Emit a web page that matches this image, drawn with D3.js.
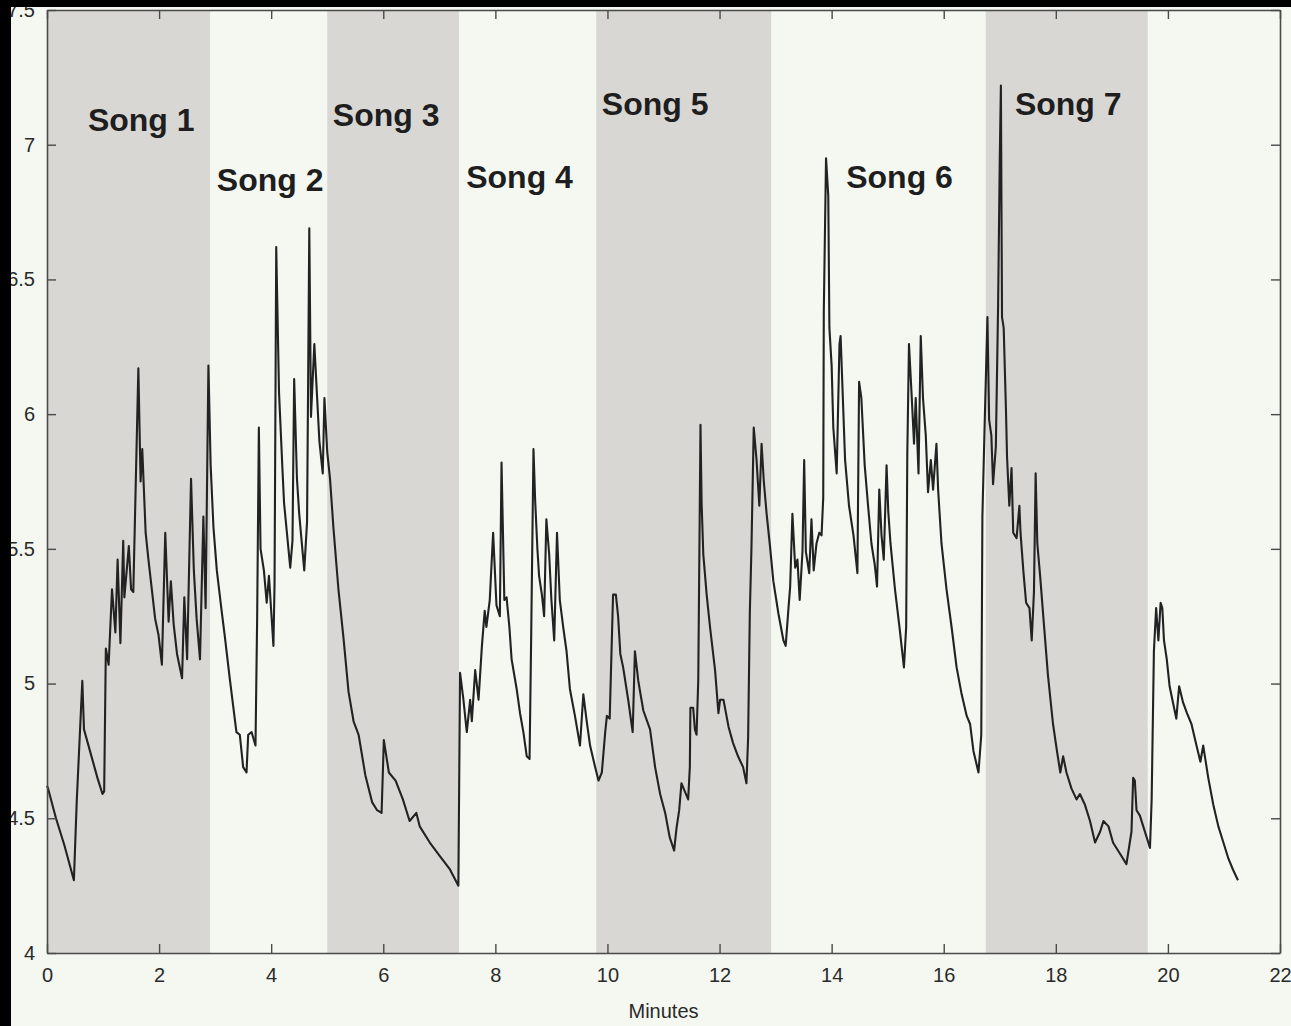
<!DOCTYPE html>
<html>
<head>
<meta charset="utf-8">
<script src="https://cdn.jsdelivr.net/npm/d3@7"></script>
<style>
  html, body { margin: 0; padding: 0; background: #f4f8f1; }
  svg { display: block; }
  .tick text { font-family: "Liberation Sans", Arial, sans-serif; font-size: 20px; fill: #2a2a2a; }
</style>
</head>
<body>
<div id="chart"></div>
<script>
// song boundaries (minutes) and label anchors (minute, level)
var songNames = ["Song 1", "Song 2", "Song 3", "Song 4", "Song 5", "Song 6", "Song 7"];
var songStart = [0, 2.91, 5.0, 7.35, 9.8, 12.92, 16.75];
var songEnd   = [2.91, 5.0, 7.35, 9.8, 12.92, 16.75, 19.64];
var labelMinute = [0.73, 3.03, 5.10, 7.48, 9.90, 14.26, 17.27];
var labelLevel  = [7.05, 6.83, 7.07, 6.84, 7.11, 6.84, 7.11];

var xTicks = [0, 2, 4, 6, 8, 10, 12, 14, 16, 18, 20, 22];
var yTicks = [4, 4.5, 5, 5.5, 6, 6.5, 7, 7.5];

// the trace
var minutes = [
  0.00, 0.02, 0.16, 0.31, 0.48, 0.53, 0.63, 0.66, 0.78, 0.90, 0.99, 1.02, 1.05, 1.10, 1.16, 1.22, 1.26, 1.31, 1.36, 1.38,
  1.46, 1.50, 1.54, 1.63, 1.67, 1.70, 1.76, 1.81, 1.93, 1.99, 2.05, 2.11, 2.17, 2.21, 2.26, 2.32, 2.41, 2.45, 2.50, 2.57,
  2.62, 2.67, 2.73, 2.79, 2.83, 2.88, 2.92, 2.97, 3.03, 3.11, 3.17, 3.26, 3.38,
  3.44, 3.50, 3.56, 3.59, 3.65, 3.72, 3.75, 3.78, 3.81, 3.87, 3.92, 3.96, 4.04, 4.06, 4.09, 4.14, 4.20, 4.23, 4.34, 4.38,
  4.41, 4.46, 4.50, 4.59, 4.64, 4.68, 4.71, 4.77, 4.86, 4.92, 4.95, 5.00, 5.05, 5.11, 5.20, 5.29, 5.38, 5.47, 5.56, 5.68,
  5.80, 5.89, 5.97, 6.01, 6.10, 6.22, 6.35, 6.47, 6.59, 6.65, 6.83, 7.01, 7.19, 7.34,
  7.37, 7.43, 7.49, 7.55, 7.58, 7.64, 7.70, 7.76, 7.81, 7.84, 7.90, 7.96, 8.02, 8.08, 8.11, 8.16, 8.20, 8.25, 8.29, 8.38,
  8.44, 8.50, 8.56, 8.61, 8.64, 8.68, 8.71, 8.75, 8.78, 8.83, 8.87, 8.91, 8.96, 9.00, 9.05, 9.10, 9.15, 9.21, 9.27, 9.33,
  9.42, 9.51, 9.57, 9.63, 9.69, 9.78, 9.84, 9.90, 9.96, 9.99, 10.04, 10.10, 10.15, 10.19, 10.23, 10.28, 10.37, 10.45, 10.49, 10.55,
  10.64, 10.76, 10.85, 10.94, 11.03, 11.11, 11.19, 11.23, 11.28, 11.32, 11.38, 11.44, 11.47, 11.48, 11.53, 11.56, 11.59, 11.62, 11.66, 11.68,
  11.71, 11.77, 11.83, 11.92, 11.98, 12.01, 12.07, 12.16, 12.24, 12.33, 12.42, 12.48, 12.51, 12.54, 12.57, 12.61, 12.66, 12.71, 12.75, 12.79,
  12.84, 12.90, 12.96, 13.05, 13.14, 13.18, 13.23, 13.26, 13.30, 13.35, 13.39,
  13.43, 13.48, 13.51, 13.54, 13.60, 13.64, 13.68, 13.73, 13.78, 13.82, 13.85, 13.86, 13.90, 13.94, 13.96, 14.00, 14.03, 14.09, 14.14, 14.16,
  14.20, 14.24, 14.31, 14.39, 14.46, 14.49, 14.53, 14.59, 14.65, 14.71, 14.77, 14.81, 14.85, 14.89, 14.93, 14.98, 15.01, 15.05, 15.13, 15.21,
  15.29, 15.33, 15.35, 15.38, 15.43, 15.47, 15.50, 15.55, 15.59, 15.63, 15.68, 15.72, 15.77, 15.81, 15.87, 15.90, 15.96, 16.05, 16.14, 16.23,
  16.32, 16.41,
  16.47, 16.53, 16.62, 16.67, 16.69, 16.73, 16.78, 16.81, 16.85, 16.88, 16.93, 16.97, 17.00, 17.02, 17.04, 17.07, 17.11, 17.13, 17.17, 17.21,
  17.24, 17.30, 17.35, 17.37, 17.42, 17.47, 17.53, 17.57, 17.61, 17.64, 17.67, 17.72, 17.78, 17.86, 17.95, 18.02, 18.08, 18.13, 18.19, 18.28,
  18.37, 18.43, 18.52, 18.61, 18.70, 18.79, 18.85, 18.94, 19.02, 19.14, 19.26, 19.32, 19.35, 19.38, 19.41, 19.44, 19.50, 19.56, 19.65, 19.68,
  19.71, 19.75, 19.79, 19.83, 19.87, 19.90, 19.93, 19.98, 20.03, 20.09, 20.15, 20.20, 20.27, 20.34, 20.42, 20.51, 20.58, 20.63, 20.66, 20.72,
  20.81, 20.90, 20.99, 21.08, 21.16, 21.25
];
var level = [
  4.62, 4.61, 4.50, 4.40, 4.27, 4.56, 5.01, 4.83, 4.74, 4.65, 4.59, 4.60, 5.13, 5.07, 5.35, 5.19, 5.46, 5.15, 5.53, 5.32,
  5.51, 5.35, 5.34, 6.17, 5.75, 5.87, 5.56, 5.46, 5.24, 5.18, 5.07, 5.56, 5.23, 5.38, 5.22, 5.11, 5.02, 5.32, 5.09, 5.76,
  5.42, 5.24, 5.09, 5.62, 5.28, 6.18, 5.81, 5.58, 5.42, 5.28, 5.18, 5.02, 4.82,
  4.81, 4.69, 4.67, 4.81, 4.82, 4.77, 5.25, 5.95, 5.50, 5.42, 5.30, 5.40, 5.14, 5.37, 6.62, 6.08, 5.80, 5.67, 5.43, 5.53,
  6.13, 5.76, 5.63, 5.42, 5.60, 6.69, 5.99, 6.26, 5.90, 5.78, 6.06, 5.86, 5.76, 5.58, 5.35, 5.17, 4.97, 4.86, 4.81, 4.66,
  4.56, 4.53, 4.52, 4.79, 4.67, 4.64, 4.57, 4.49, 4.52, 4.47, 4.41, 4.36, 4.31, 4.25,
  5.04, 4.94, 4.82, 4.94, 4.86, 5.05, 4.94, 5.14, 5.27, 5.21, 5.31, 5.56, 5.29, 5.25, 5.82, 5.31, 5.32, 5.21, 5.09, 4.98,
  4.89, 4.82, 4.73, 4.72, 5.19, 5.87, 5.68, 5.50, 5.40, 5.33, 5.25, 5.61, 5.48, 5.31, 5.16, 5.56, 5.31, 5.21, 5.12, 4.98,
  4.88, 4.77, 4.96, 4.86, 4.77, 4.69, 4.64, 4.67, 4.82, 4.88, 4.87, 5.33, 5.33, 5.25, 5.11, 5.06, 4.94, 4.82, 5.12, 5.01,
  4.90, 4.83, 4.69, 4.59, 4.52, 4.43, 4.38, 4.46, 4.53, 4.63, 4.60, 4.57, 4.69, 4.91, 4.91, 4.83, 4.81, 5.01, 5.96, 5.67,
  5.48, 5.33, 5.21, 5.05, 4.89, 4.94, 4.94, 4.84, 4.78, 4.73, 4.69, 4.63, 4.80, 5.26, 5.51, 5.95, 5.83, 5.66, 5.89, 5.75,
  5.63, 5.51, 5.38, 5.26, 5.16, 5.14, 5.28, 5.36, 5.63, 5.43, 5.46,
  5.31, 5.49, 5.83, 5.49, 5.41, 5.61, 5.42, 5.52, 5.56, 5.55, 5.69, 6.38, 6.95, 6.81, 6.32, 6.18, 5.95, 5.78, 6.26, 6.29,
  6.06, 5.83, 5.66, 5.55, 5.41, 6.12, 6.06, 5.81, 5.66, 5.52, 5.44, 5.36, 5.72, 5.55, 5.46, 5.81, 5.64, 5.52, 5.35, 5.21,
  5.06, 5.21, 5.85, 6.26, 6.06, 5.89, 6.06, 5.78, 6.29, 6.06, 5.92, 5.71, 5.83, 5.72, 5.89, 5.72, 5.52, 5.35, 5.21, 5.06,
  4.96, 4.88,
  4.85, 4.75, 4.67, 4.81, 5.62, 5.96, 6.36, 5.98, 5.92, 5.74, 5.88, 6.40, 6.95, 7.22, 6.36, 6.32, 6.02, 5.84, 5.66, 5.80,
  5.56, 5.54, 5.66, 5.56, 5.42, 5.30, 5.28, 5.16, 5.34, 5.78, 5.52, 5.40, 5.24, 5.03, 4.85, 4.75, 4.67, 4.73, 4.67, 4.61,
  4.57, 4.59, 4.55, 4.49, 4.41, 4.45, 4.49, 4.47, 4.41, 4.37, 4.33, 4.41, 4.45, 4.65, 4.64, 4.53, 4.51, 4.47, 4.41, 4.39,
  4.57, 5.12, 5.28, 5.16, 5.30, 5.28, 5.16, 5.09, 4.99, 4.93, 4.87, 4.99, 4.93, 4.89, 4.85, 4.77, 4.71, 4.77, 4.73, 4.65,
  4.55, 4.47, 4.41, 4.35, 4.31, 4.27
];

var W = 1291, H = 1026;
var padLeft = 47, padRight = 1280, padTop = 10, padBottom = 953;

var svg = d3.select("#chart").append("svg")
    .attr("width", W)
    .attr("height", H);

svg.append("rect")
    .attr("width", W).attr("height", H)
    .attr("fill", "#f4f8f1");

var x = d3.scaleLinear().domain([0, 22]).range([padLeft, padRight]);
var y = d3.scaleLinear().domain([4, 7.5]).range([padBottom, padTop]);

// grey bands for the odd songs
var bands = [];
songStart.forEach(function(s, i) { if (i % 2 === 0) bands.push([s, songEnd[i]]); });

svg.selectAll("rect.band")
    .data(bands)
    .enter().append("rect")
    .attr("class", "band")
    .attr("x", function(d) { return x(d[0]); })
    .attr("width", function(d) { return x(d[1]) - x(d[0]); })
    .attr("y", y(7.5))
    .attr("height", y(4) - y(7.5))
    .attr("fill", "#d8d7d3");

// the trace
var pts = minutes.map(function(m, i) { return [m, level[i]]; });
svg.append("path")
    .datum(pts)
    .attr("d", d3.line().x(function(d) { return x(d[0]); }).y(function(d) { return y(d[1]); }))
    .attr("fill", "none")
    .attr("stroke", "#222")
    .attr("stroke-width", 2.1)
    .attr("stroke-linejoin", "round");

// song labels
svg.selectAll("text.song")
    .data(songNames)
    .enter().append("text")
    .attr("class", "song")
    .attr("x", function(d, i) { return x(labelMinute[i]); })
    .attr("y", function(d, i) { return y(labelLevel[i]); })
    .attr("font-family", "Liberation Sans, Arial, sans-serif")
    .attr("font-weight", "bold")
    .attr("font-size", 32)
    .attr("fill", "#1e1e1e")
    .text(function(d) { return d; });

// axes, ticks point inwards on all four sides
var fmt = d3.format("");
svg.append("g")
    .attr("transform", "translate(0," + padBottom + ")")
    .call(d3.axisBottom(x).tickValues(xTicks).tickSizeInner(-9).tickSizeOuter(0).tickPadding(15).tickFormat(fmt));
svg.append("g")
    .attr("transform", "translate(0," + padTop + ")")
    .call(d3.axisTop(x).tickValues(xTicks).tickSizeInner(-9).tickSizeOuter(0).tickFormat(""));
svg.append("g")
    .attr("transform", "translate(" + padLeft + ",0)")
    .call(d3.axisLeft(y).tickValues(yTicks).tickSizeInner(-9).tickSizeOuter(0).tickPadding(12).tickFormat(fmt));
svg.append("g")
    .attr("transform", "translate(" + padRight + ",0)")
    .call(d3.axisRight(y).tickValues(yTicks).tickSizeInner(-9).tickSizeOuter(0).tickFormat(""));

svg.selectAll(".domain").attr("stroke", "#4a4a4a").attr("stroke-width", 1.6);
svg.selectAll(".tick line").attr("stroke", "#4a4a4a").attr("stroke-width", 1.4);

svg.append("text")
    .attr("x", (padLeft + padRight) / 2)
    .attr("y", 1018)
    .attr("text-anchor", "middle")
    .attr("font-family", "Liberation Sans, Arial, sans-serif")
    .attr("font-size", 20)
    .attr("fill", "#2a2a2a")
    .text("Minutes");

// black scan edges on the top and left of the picture
svg.append("rect").attr("x", 0).attr("y", 0).attr("width", W).attr("height", 7).attr("fill", "#000");
svg.append("rect").attr("x", 0).attr("y", 0).attr("width", 11).attr("height", H).attr("fill", "#000");
</script>
</body>
</html>
